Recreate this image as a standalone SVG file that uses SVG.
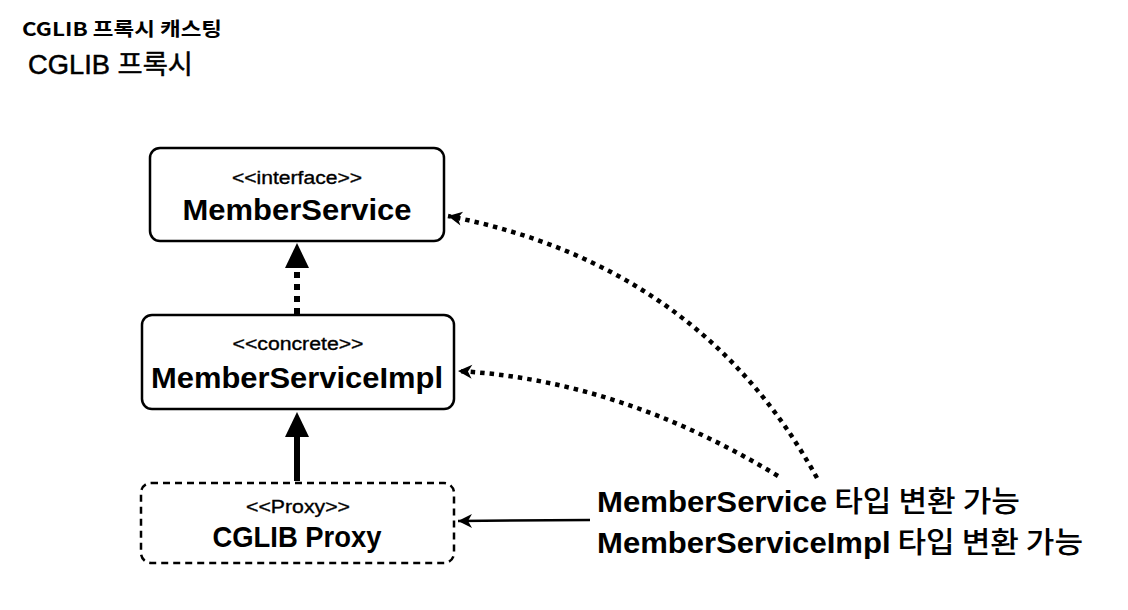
<svg xmlns="http://www.w3.org/2000/svg" width="1128" height="610" viewBox="0 0 1128 610">
<style>
.box{fill:#fff;stroke:#000;stroke-width:2.5}
.dash{stroke-dasharray:7 5}
.st{font-family:"Liberation Sans","Noto Sans CJK KR",sans-serif;font-size:18px;text-anchor:middle;fill:#000;stroke:#000;stroke-width:0.35}
.nm{font-family:"Liberation Sans","Noto Sans CJK KR",sans-serif;font-size:30px;font-weight:bold;text-anchor:middle;fill:#000}
.lbl{font-family:"Liberation Sans","Noto Sans CJK KR",sans-serif;font-size:29px;font-weight:bold;fill:#000}
.ko{font-family:"Noto Sans CJK KR",sans-serif;font-weight:500}
.thick{fill:none;stroke:#000;stroke-width:6}
.dot{fill:none;stroke:#000;stroke-width:4.5;stroke-dasharray:4.5 5}
</style>
<defs>
<marker id="tri" markerUnits="userSpaceOnUse" markerWidth="26" markerHeight="26" refX="0" refY="12" orient="auto" overflow="visible">
<path d="M0,0 L25,12 L0,24 Z" fill="#000"/>
</marker>
<marker id="open" markerUnits="userSpaceOnUse" markerWidth="16" markerHeight="16" refX="14" refY="7" orient="auto" overflow="visible">
<path d="M0,0 L14,7 L0,14 L4,7 Z" fill="#000"/>
</marker>
</defs>

<g id="titles">
<text x="22" y="36" font-family="'Noto Sans CJK KR',sans-serif" font-size="19" font-weight="bold" textLength="200" lengthAdjust="spacingAndGlyphs">CGLIB 프록시 캐스팅</text>
<text x="28" y="74" font-family="'Liberation Sans','Noto Sans CJK KR',sans-serif" font-size="27" stroke="#000" stroke-width="0.5" textLength="165" lengthAdjust="spacingAndGlyphs">CGLIB 프록시</text>
</g>

<g id="memberService">
<rect class="box" x="150" y="148" width="294" height="93" rx="10"/>
<text class="st" x="297" y="184" textLength="130" lengthAdjust="spacingAndGlyphs">&lt;&lt;interface&gt;&gt;</text>
<text class="nm" x="297" y="220" textLength="229" lengthAdjust="spacingAndGlyphs">MemberService</text>
</g>

<g id="memberServiceImpl">
<rect class="box" x="142" y="315" width="312" height="94" rx="10"/>
<text class="st" x="298" y="350" textLength="131" lengthAdjust="spacingAndGlyphs">&lt;&lt;concrete&gt;&gt;</text>
<text class="nm" x="297" y="388" textLength="292" lengthAdjust="spacingAndGlyphs">MemberServiceImpl</text>
</g>

<g id="cglibProxy">
<rect class="box dash" x="141" y="483" width="313" height="80" rx="10"/>
<text class="st" x="298" y="513" textLength="104" lengthAdjust="spacingAndGlyphs">&lt;&lt;Proxy&gt;&gt;</text>
<text class="nm" x="297" y="547" font-size="28" textLength="169" lengthAdjust="spacingAndGlyphs">CGLIB Proxy</text>
</g>

<g id="note">
<text class="lbl" x="597" y="512" textLength="423" lengthAdjust="spacingAndGlyphs">MemberService<tspan class="ko"> 타입 변환 가능</tspan></text>
<text class="lbl" x="597" y="553" textLength="486" lengthAdjust="spacingAndGlyphs">MemberServiceImpl<tspan class="ko"> 타입 변환 가능</tspan></text>
</g>

<g id="connectors">
<path class="thick" d="M297,314 L297,268" stroke-dasharray="6 6" marker-end="url(#tri)"/>
<path class="thick" d="M297,481 L297,437" marker-end="url(#tri)"/>
<path class="dot" d="M817,478 Q700,265 448,216" marker-end="url(#open)"/>
<path class="dot" d="M778,476 Q620,380 458,371" marker-end="url(#open)"/>
<path d="M590,520 L458,521" fill="none" stroke="#000" stroke-width="2.5" marker-end="url(#open)"/>
</g>
</svg>
